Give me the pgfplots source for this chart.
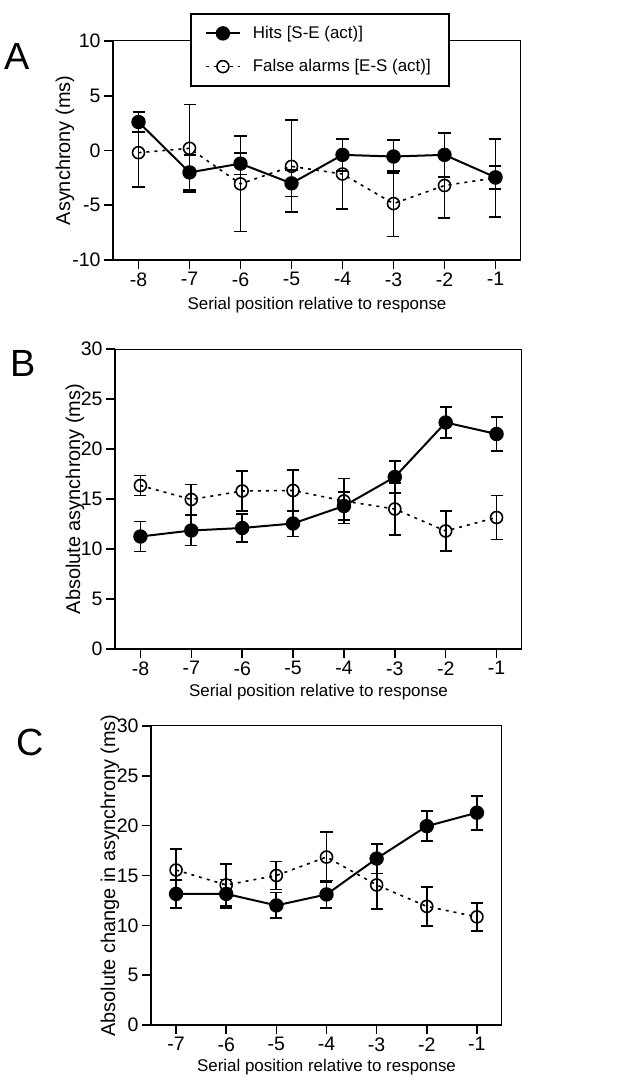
\documentclass[border=0pt]{standalone}
\usepackage{pgfplots}
\pgfplotsset{compat=1.18}
\usepackage{fontspec}
\setmainfont{Liberation Sans}

\pgfplotsset{
  panel/.style={
    scale only axis,
    tick align=outside, tick pos=left,
    major tick length=4.5bp,
    every tick/.style={black, line width=0.8bp},
    axis line style={line width=0.5bp},
    ticklabel style={font=\fontsize{9.8}{11}\selectfont, inner sep=1.5bp},
    x label style={font=\fontsize{8.5}{10}\selectfont},
    y label style={font=\fontsize{10}{12}\selectfont},
    clip=false,
  },
  hits/.style={black, line width=1bp, mark=*, mark size=3.1bp, mark options={solid, fill=black}},
  fa/.style={black, line width=0.8bp, dash pattern=on 1.5bp off 2.5bp, mark=o, mark size=3bp, mark options={solid}},
  eb/.style={
    error bars/y dir=both, error bars/y explicit,
    error bars/error bar style={solid, line width=0.9bp, black},
    error bars/error mark options={solid, line width=0.9bp, black, mark size=3bp, rotate=90}},
}

\begin{document}
\begin{tikzpicture}
\path[use as bounding box] (0,0) rectangle (312.5bp,540.5bp);

% panel letters
\node[font=\fontsize{19}{19}\selectfont] at (8.5bp,512.5bp) {A};
\node[font=\fontsize{19}{19}\selectfont] at (11.5bp,359bp) {B};
\node[font=\fontsize{19}{19}\selectfont] at (15bp,169.5bp) {C};

% ---------------- A
\begin{axis}[panel,
  at={(56.5bp,410.5bp)}, anchor=south west,
  width=204bp, height=109.5bp,
  xmin=-8.5, xmax=-0.5, ymin=-10, ymax=10,
  xtick={-8,...,-1}, xticklabels={-8,-7,-6,-5,-4,-3,-2,-1},
  ytick={-10,-5,0,5,10}, yticklabels={-10,-5,0,5,10},
  xlabel={Serial position relative to response},
  ylabel={Asynchrony (ms)},
  x label style={at={(axis description cs:0.5,0)}, yshift=-22.5bp, anchor=center},
  y label style={at={(axis description cs:-0.1176,0.5)}, anchor=center},
  legend style={at={(0.189,1.128)}, anchor=north west, draw=black, line width=0.8bp,
    font=\fontsize{8.5}{10}\selectfont, row sep=5bp, inner xsep=7bp, inner ysep=4bp,
    /tikz/every odd column/.append style={column sep=4bp}},
  legend image code/.code={\draw[#1] (0bp,0bp) -- (17bp,0bp);
    \draw[#1, mark repeat=2, mark phase=2] plot coordinates {(0bp,0bp) (8.5bp,0bp) (17bp,0bp)};},
  legend cell align=left,
]
\addlegendimage{hits}
\addlegendentry{Hits [S-E (act)]}
\addlegendimage{fa}
\addlegendentry{False alarms [E-S (act)]}

\addplot[fa, forget plot, eb] table[x=x, y=y, y error=e] {
x y e
-8 -0.2 3.1
-7 0.2 4.0
-6 -3.05 4.35
-5 -1.45 4.2
-4 -2.15 3.2
-3 -4.85 3.0
-2 -3.2 3.0
-1 -2.5 3.55
};
\addplot[hits, forget plot, eb] table[x=x, y=y, y error=e] {
x y e
-8 2.6 0.9
-7 -2.0 1.6
-6 -1.2 1.0
-5 -3.0 1.2
-4 -0.4 1.5
-3 -0.55 1.5
-2 -0.4 2.0
-1 -2.45 1.05
};
\draw[line width=1.2bp] (rel axis cs:0,1) -- (rel axis cs:0,0) -- (rel axis cs:1,0);
\end{axis}

% ---------------- B
\begin{axis}[panel,
  at={(57.5bp,216bp)}, anchor=south west,
  width=203.5bp, height=150bp,
  xmin=-8.5, xmax=-0.5, ymin=0, ymax=30,
  xtick={-8,...,-1}, xticklabels={-8,-7,-6,-5,-4,-3,-2,-1},
  ytick={0,5,10,15,20,25,30}, yticklabels={0,5,10,15,20,25,30},
  xlabel={Serial position relative to response},
  ylabel={Absolute asynchrony (ms)},
  x label style={at={(axis description cs:0.5,0)}, yshift=-21.75bp, anchor=center},
  y label style={at={(axis description cs:-0.0983,0.5)}, anchor=center},
]
\addplot[fa, eb] table[x=x, y=y, y error=e] {
x y e
-8 16.35 1.0
-7 14.95 1.5
-6 15.8 2.0
-5 15.85 2.05
-4 14.8 2.25
-3 14.0 2.6
-2 11.8 2.0
-1 13.15 2.2
};
\addplot[hits, eb] table[x=x, y=y, y error=e] {
x y e
-8 11.25 1.5
-7 11.85 1.5
-6 12.1 1.4
-5 12.55 1.3
-4 14.3 1.4
-3 17.2 1.6
-2 22.65 1.55
-1 21.5 1.7
};
\draw[line width=1.2bp] (rel axis cs:0,1) -- (rel axis cs:0,0) -- (rel axis cs:1,0);
\end{axis}

% ---------------- C
\begin{axis}[panel,
  at={(75.5bp,28bp)}, anchor=south west,
  width=175.5bp, height=149.5bp,
  xmin=-7.5, xmax=-0.5, ymin=0, ymax=30,
  xtick={-7,...,-1}, xticklabels={-7,-6,-5,-4,-3,-2,-1},
  ytick={0,5,10,15,20,25,30}, yticklabels={0,5,10,15,20,25,30},
  xlabel={Serial position relative to response},
  ylabel={Absolute change in asynchrony (ms)},
  x label style={at={(axis description cs:0.5,0)}, yshift=-21bp, anchor=center},
  y label style={at={(axis description cs:-0.1168,0.5)}, anchor=center},
]
\addplot[fa, eb] table[x=x, y=y, y error=e] {
x y e
-7 15.55 2.1
-6 14.05 2.1
-5 15.0 1.4
-4 16.85 2.5
-3 14.05 2.4
-2 11.9 1.95
-1 10.85 1.4
};
\addplot[hits, eb] table[x=x, y=y, y error=e] {
x y e
-7 13.15 1.4
-6 13.15 1.45
-5 12.0 1.3
-4 13.1 1.4
-3 16.7 1.5
-2 19.95 1.5
-1 21.3 1.7
};
\draw[line width=1.2bp] (rel axis cs:0,1) -- (rel axis cs:0,0) -- (rel axis cs:1,0);
\end{axis}
\end{tikzpicture}
\end{document}
